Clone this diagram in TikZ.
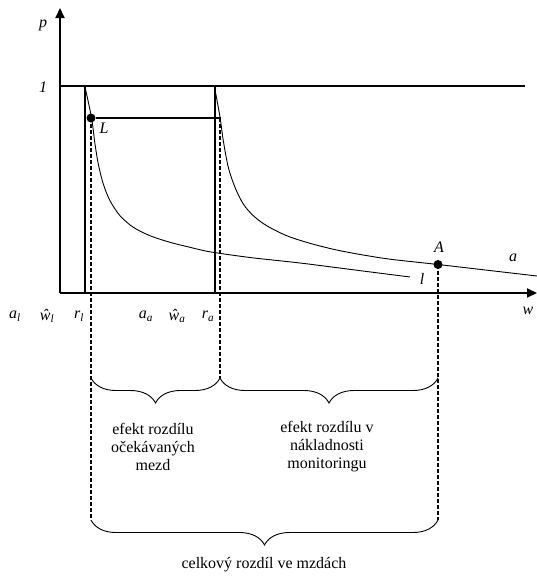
\documentclass[tikz,border=0pt]{standalone}
\usepackage{fontspec}
\setmainfont{Liberation Serif}
\usetikzlibrary{arrows.meta,decorations.pathreplacing}
\newcommand{\lab}[2]{\textit{#1}\textsubscript{\textit{#2}}}
\begin{document}
\begin{tikzpicture}[x=1pt,y=-1pt,
  every node/.style={font=\fontsize{16}{18}\selectfont, inner sep=0pt},
  axis/.style={line width=2pt, -{Triangle[length=10pt,width=9pt]}},
  dotln/.style={line width=1.4pt, dash pattern=on 0.5pt off 0.5pt},
  dashln/.style={line width=1.6pt, dash pattern=on 4pt off 2pt},
  curve/.style={line width=0.9pt},
  dot/.style={circle, fill=black, minimum size=9pt, inner sep=0pt},
  bracedeco/.style={line width=0.9pt, decorate, decoration={brace, amplitude=25pt}},
  txt/.style={align=center, font=\fontsize{16}{18}\selectfont}]
\useasboundingbox (0,0) rectangle (537,576);
% key points
\coordinate (O) at (60,293);
\coordinate (Ytip) at (60,8);
\coordinate (Xtip) at (537,293);
\coordinate (oneL) at (60,86);
\coordinate (oneR) at (525,86);
\coordinate (rlT) at (85,86);
\coordinate (rlB) at (85,293);
\coordinate (raT) at (215,86);
\coordinate (raB) at (215,293);
\coordinate (LhR) at (220,118);
\coordinate (LB) at (91,520);
\coordinate (MB) at (220,378);
\coordinate (AB) at (438,520);
\coordinate (bl1) at (91,378);
\coordinate (bl2) at (220,378);
\coordinate (bl3) at (438,378);
\coordinate (bb1) at (91,520);
\coordinate (bb2) at (438,520);
% reference lines
\draw[dotln] (oneL) -- (oneR);
\draw[dotln] (rlT) -- (rlB);
\draw[dotln] (raT) -- (raB);
% curves
\draw[curve] plot[smooth, tension=0.5] coordinates {(85,87) (91.5,117.5) (95,144) (98.3,164) (103.3,184) (110,200.7) (120,215.7) (133.3,227.3) (150,235.7) (170,242.3) (190,247.3) (210,251.8) (250,257.5) (300,263) (355,270) (410,277)};
\draw[curve] plot[smooth, tension=0.5] coordinates {(214.5,87) (220,117) (223.3,140.7) (228.3,167.3) (235,187.3) (243.3,204) (253.3,215.7) (266.7,225.7) (286.7,235.7) (310,243.3) (340,250.7) (385,258.5) (438,264.5) (537,276)};
% points
\node[dot] (L) at (91,118) {};
\node[dot] (A) at (438,264.5) {};
\draw[dotln] (L) -- (LhR);
% dashed drops
\draw[dashln] (L.center) -- (LB);
\draw[dashln] (LhR) -- (MB);
\draw[dashln] (A.center) -- (AB);
% axes
\draw[axis] (O) -- (Ytip);
\draw[axis] (O) -- (Xtip);
% braces
\draw[bracedeco] (bl2) -- (bl1);
\draw[bracedeco] (bl3) -- (bl2);
\draw[bracedeco] (bb2) -- (bb1);
% labels
\node (p) at (43,25) {\textit{p}};
\node (one) at (43,87) {\textit{1}};
\node (Llab) at (104,128) {\textit{L}};
\node (Alab) at (439,247) {\textit{A}};
\node (alab) at (513,258) {\textit{a}};
\node (llab) at (422,279) {\textit{l}};
\node (wlab) at (528,311) {\textit{w}};
\node (al) at (15,316) {\lab{a}{l}};
\node (wl) at (47,316) {\lab{ŵ}{l}};
\node (rl) at (79,316) {\lab{r}{l}};
\node (aa) at (146,316) {\lab{a}{a}};
\node (wa) at (177,316) {\lab{ŵ}{a}};
\node (ra) at (208,316) {\lab{r}{a}};
\node[txt] (t1) at (153,447) {efekt rozdílu\\očekávaných\\mezd};
\node[txt] (t2) at (327,447) {efekt rozdílu v\\nákladnosti\\monitoringu};
\node[txt] (t3) at (264,565) {celkový rozdíl ve mzdách};
\end{tikzpicture}
\end{document}
